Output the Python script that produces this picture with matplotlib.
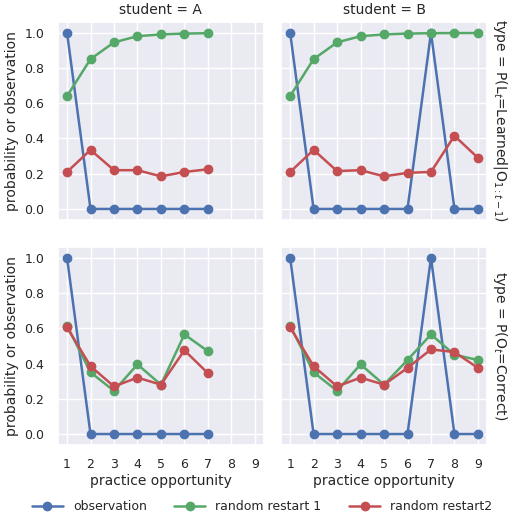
import matplotlib
matplotlib.use("Agg")
import matplotlib.pyplot as plt
import seaborn as sns

sns.set_theme(style="darkgrid")
plt.rcParams['font.family'] = ['DejaVu Sans']

x_a = [1, 2, 3, 4, 5, 6, 7]
x_b = [1, 2, 3, 4, 5, 6, 7, 8, 9]
obs_a = [1, 0, 0, 0, 0, 0, 0]
obs_b = [1, 0, 0, 0, 0, 0, 1, 0, 0]
learned_r1_a = [0.64, 0.85, 0.945, 0.98, 0.99, 0.995, 0.997]
learned_r2_a = [0.21, 0.335, 0.22, 0.22, 0.185, 0.21, 0.225]
learned_r1_b = [0.64, 0.85, 0.945, 0.98, 0.99, 0.995, 0.997, 0.998, 0.998]
learned_r2_b = [0.21, 0.335, 0.215, 0.22, 0.185, 0.205, 0.21, 0.415, 0.29]
correct_r1_a = [0.615, 0.35, 0.245, 0.395, 0.28, 0.565, 0.47]
correct_r2_a = [0.605, 0.385, 0.27, 0.32, 0.28, 0.475, 0.345]
correct_r1_b = [0.615, 0.35, 0.245, 0.395, 0.28, 0.42, 0.565, 0.45, 0.42]
correct_r2_b = [0.605, 0.385, 0.27, 0.32, 0.28, 0.375, 0.48, 0.465, 0.375]

colors = ["#4C72B0", "#55A868", "#C44E52"]
labels = ["observation", "random restart 1", "random restart2"]
rows = ["type = P(L$_t$=Learned|O$_{1:t-1}$)", "type = P(O$_t$=Correct)"]

panels = [
    [(x_a, obs_a, learned_r1_a, learned_r2_a), (x_b, obs_b, learned_r1_b, learned_r2_b)],
    [(x_a, obs_a, correct_r1_a, correct_r2_a), (x_b, obs_b, correct_r1_b, correct_r2_b)],
]

fig, axes = plt.subplots(2, 2, figsize=(5.24, 5.14), dpi=100, sharex=True, sharey=True)
for i in range(2):
    for j in range(2):
        ax = axes[i, j]
        x, o, r1, r2 = panels[i][j]
        for ys, c, lab in zip([o, r1, r2], colors, labels):
            ax.plot(x, ys, color=c, marker="o", markersize=6, lw=1.8, label=lab)
        ax.set_xlim(0.6, 9.4)
        ax.set_ylim(-0.06, 1.06)
        ax.set_xticks(range(1, 10))
        ax.set_yticks([0.0, 0.2, 0.4, 0.6, 0.8, 1.0])
        ax.tick_params(labelsize=9)
        if i == 0:
            ax.set_title("student = " + "AB"[j], fontsize=10)
        if i == 1:
            ax.set_xlabel("practice opportunity", fontsize=10, labelpad=2)
        if j == 0:
            ax.set_ylabel("probability or observation", fontsize=10)
        if j == 1:
            ax.text(1.02, 0.5, rows[i], rotation=-90, transform=ax.transAxes,
                    va="center", ha="left", fontsize=10)

handles, labs = axes[0, 0].get_legend_handles_labels()
fig.legend(handles, labs, loc="lower center", ncol=3, frameon=False, fontsize=9,
           bbox_to_anchor=(0.5, -0.02), columnspacing=2.2, handlelength=2.5)
fig.subplots_adjust(left=0.11, right=0.93, top=0.957, bottom=0.135, wspace=0.08, hspace=0.14)
fig.savefig("out.png")
